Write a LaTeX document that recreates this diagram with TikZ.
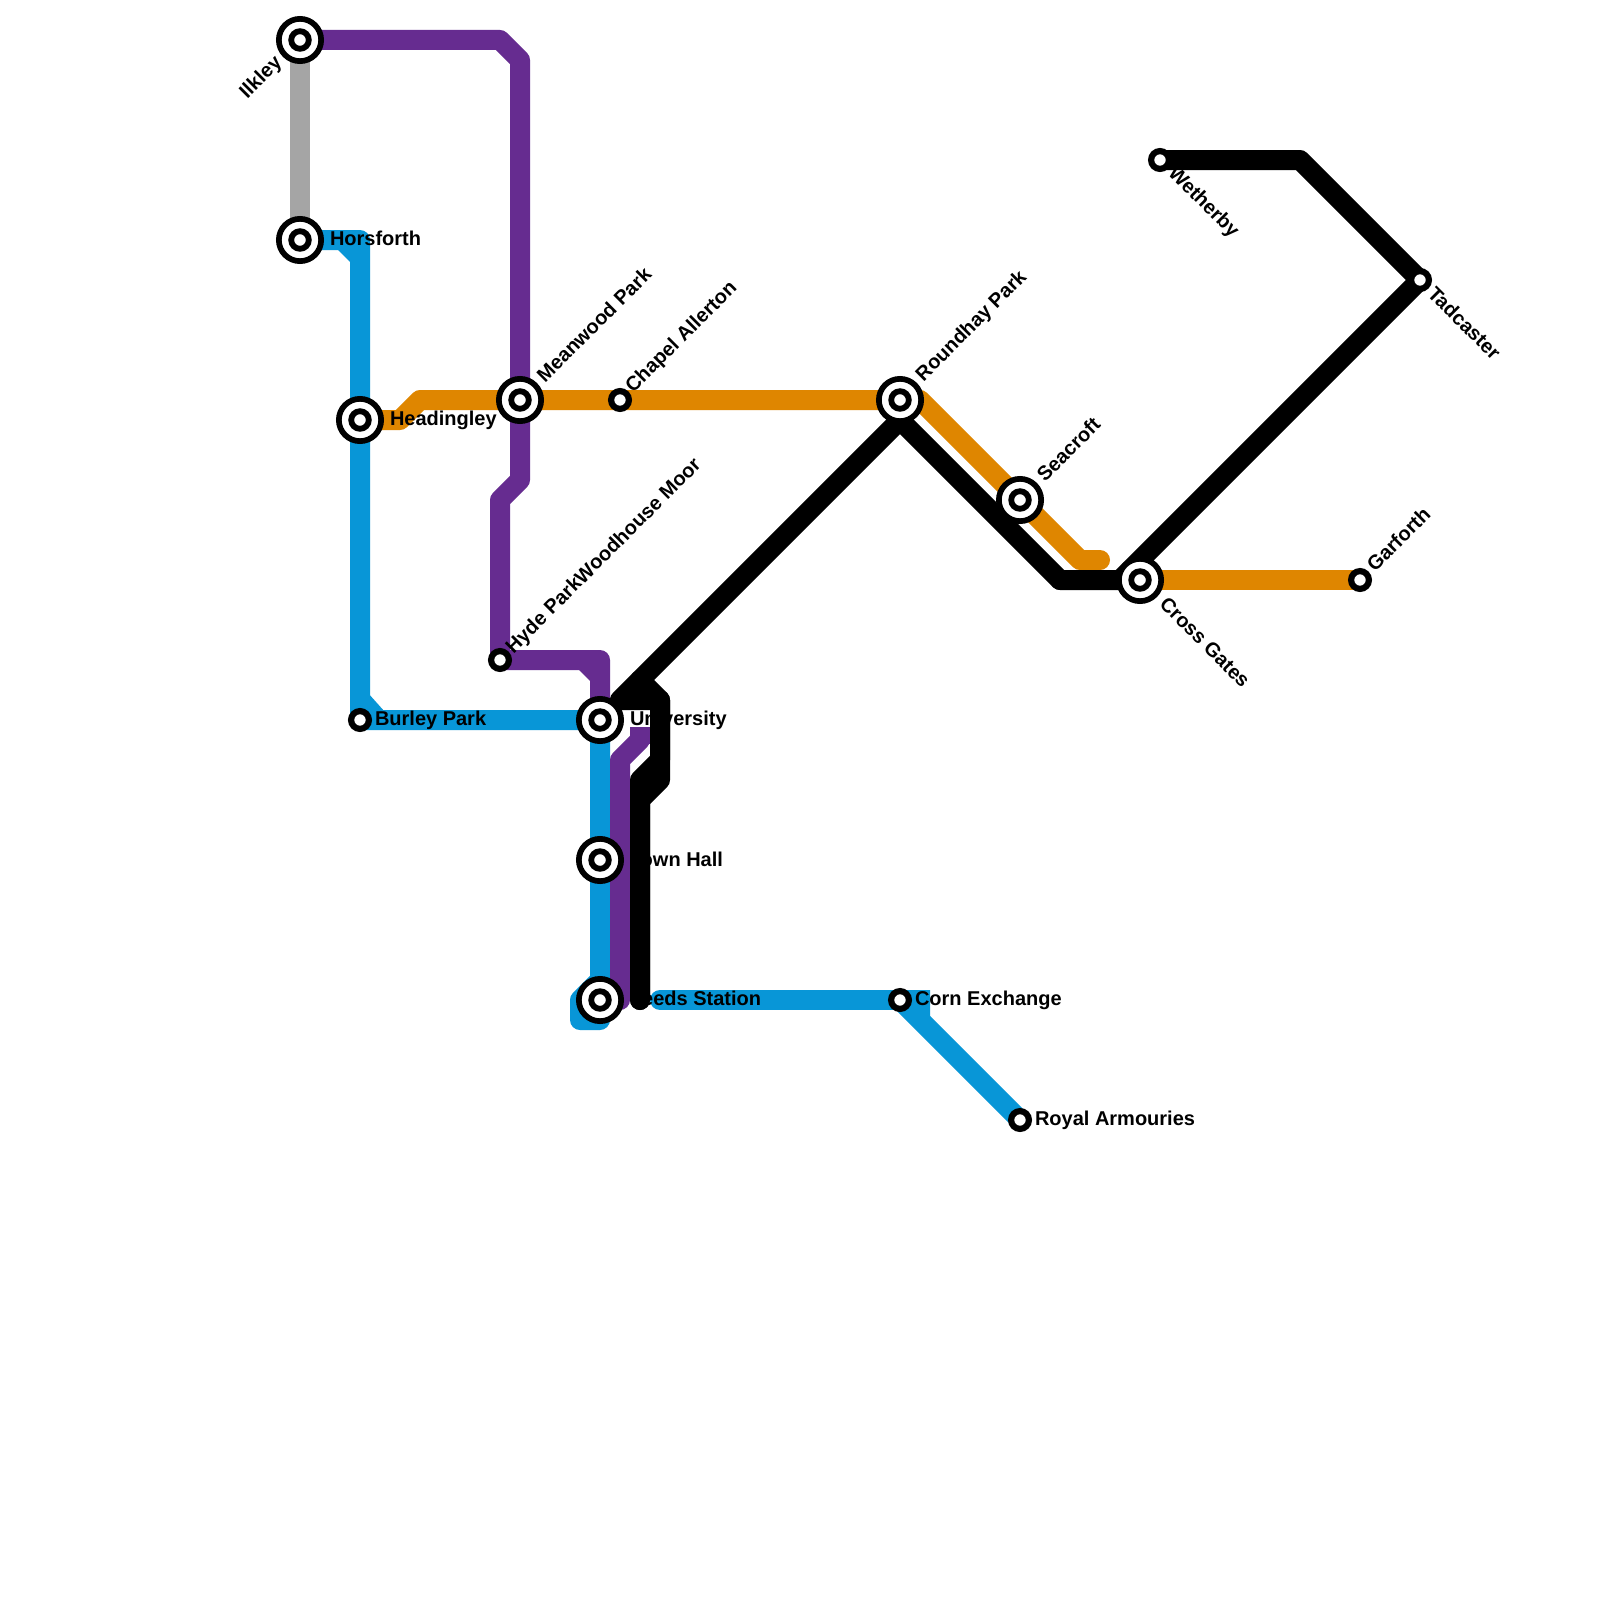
\documentclass[tikz,border=0pt]{standalone}
\usepackage{fontspec}
\setmainfont{Liberation Sans}
\definecolor{lgrey}{HTML}{A5A5A5}
\definecolor{lblue}{HTML}{0896D7}
\definecolor{lpurple}{HTML}{662C90}
\definecolor{lorange}{HTML}{DF8600}
\tikzset{
  route/.style={line width=10pt,line join=round,line cap=round},
  butt/.style={line width=10pt,line join=round,line cap=butt},
  ringbig/.style={circle,draw=black,fill=white,line width=2.85pt,inner sep=0pt,outer sep=0pt,minimum size=21.15pt},
  ringsmall/.style={circle,draw=black,fill=white,line width=2.9pt,inner sep=0pt,outer sep=0pt,minimum size=8.8pt},
  ringlone/.style={circle,draw=black,fill=white,line width=3.1pt,inner sep=0pt,outer sep=0pt,minimum size=8.9pt},
  lab/.style={font=\fontsize{10}{12}\selectfont\bfseries,inner sep=0pt,outer sep=0pt,text=black},
  labh/.style={lab,anchor=west},
  labu/.style={lab,anchor=west,rotate=45},
  labd/.style={lab,anchor=west,rotate=-45},
  labe/.style={lab,anchor=east,rotate=45}
}
\begin{document}
\begin{tikzpicture}[x=10pt,y=-10pt]
\useasboundingbox (0,0) rectangle (80,80);
\fill[white] (0,0) rectangle (80,80);
% stations
\coordinate (ilkley) at (15,2);
\coordinate (horsforth) at (15,12);
\coordinate (headingley) at (18,21);
\coordinate (meanwood) at (26,20);
\coordinate (chapel) at (31,20);
\coordinate (hyde) at (25,33);
\coordinate (burley) at (18,36);
\coordinate (university) at (30,36);
\coordinate (townhall) at (30,43);
\coordinate (leeds) at (30,50);
\coordinate (corn) at (45,50);
\coordinate (royal) at (51,56);
\coordinate (roundhay) at (45,20);
\coordinate (seacroft) at (51,25);
\coordinate (crossgates) at (57,29);
\coordinate (garforth) at (68,29);
\coordinate (wetherby) at (58,8);
\coordinate (tadcaster) at (71,14);
% grey
\draw[butt,lgrey] (ilkley) -- (horsforth);
% blue
\draw[route,lblue] (horsforth) -- (18,12) -- (burley) -- (university) -- (30,49) -- (29,50) -- (29,51) -- (30,51) -- (leeds);
\fill[lblue] (16.8,12.4) -- (17.6,13.2) -- (17.6,12.4) -- cycle;
\fill[lblue] (18.4,34.65) -- (19.25,35.6) -- (18.4,35.6) -- cycle;
\draw[route,lblue] (33,50) -- (corn);
\draw[butt,lblue] (corn) -- (royal);
\fill[lblue] (45,49.5) -- (46.5,49.5) -- (46.5,50.85) -- (45.5,50.85) -- (45,50.5) -- cycle;
% orange
\draw[route,lorange] (headingley) -- (20,21) -- (21,20) -- (roundhay) -- (46,20) -- (seacroft) -- (54,28) -- (55,28);
\draw[butt,lorange] (crossgates) -- (garforth);
% purple
\draw[route,lpurple] (ilkley) -- (25,2) -- (26,3) -- (meanwood) -- (26,24) -- (25,25) -- (hyde) -- (30,33) -- (university);
\fill[lpurple] (28.85,33.4) -- (29.6,34.15) -- (29.6,33.4) -- cycle;
\draw[route,lpurple] (leeds) -- (31,50) -- (31,38) -- (32,37);
\draw[butt,lpurple] (32,37.2) -- (32,36.35);
% labels
\node[labe] (lilkley) at (13.95,3) {Ilkley};
\node[labh] (lhorsforth) at (16.5,11.9) {Horsforth};
\node[labh] (lheadingley) at (19.5,21) {Headingley};
\node[labu] (lmeanwood) at (27,18.92) {Meanwood Park};
\node[labu] (lchapel) at (31.48,19.5) {Chapel Allerton};
\node[labu] (lhyde) at (25.5,32.53) {Hyde ParkWoodhouse Moor};
\node[labh] (lburley) at (18.75,36) {Burley Park};
\node[labh] (luniversity) at (31.5,36) {University};
\node[labh] (ltownhall) at (31.5,42.95) {Town Hall};
\node[labh] (lleeds) at (31.5,49.9) {Leeds Station};
\node[labh] (lcorn) at (45.75,50) {Corn Exchange};
\node[labh] (lroyal) at (51.75,56) {Royal Armouries};
\node[labu] (lroundhay) at (46,18.92) {Roundhay Park};
\node[labu] (lseacroft) at (52,23.88) {Seacroft};
\node[labd] (lcross) at (58.17,30.03) {Cross Gates};
\node[labu] (lgarforth) at (68.5,28.38) {Garforth};
\node[labd] (lwetherby) at (58.55,8.52) {Wetherby};
\node[labd] (ltadcaster) at (71.58,14.5) {Tadcaster};
% black
\draw[route,black] (wetherby) -- (65,8) -- (tadcaster) -- (56,29) -- (53,29) -- (45,21) -- (31,35) -- (33,35) -- (33,39) -- (32,40) -- (32,50);
\draw[route,black] (53,29) -- (crossgates);
\draw[route,black] (45,21) -- (roundhay);
\draw[route,black] (32,34) -- (33,35) -- (33,38) -- (32,39) -- (32,50);
% station markers
\foreach \n in {ilkley,horsforth,headingley,meanwood,university,townhall,leeds,roundhay,seacroft,crossgates}{
  \node[ringbig] (big\n) at (\n) {};
  \node[ringsmall] (small\n) at (\n) {};
}
\foreach \n in {chapel,hyde,burley,corn,royal,garforth,wetherby,tadcaster}{
  \node[ringlone] (small\n) at (\n) {};
}
\end{tikzpicture}
\end{document}
